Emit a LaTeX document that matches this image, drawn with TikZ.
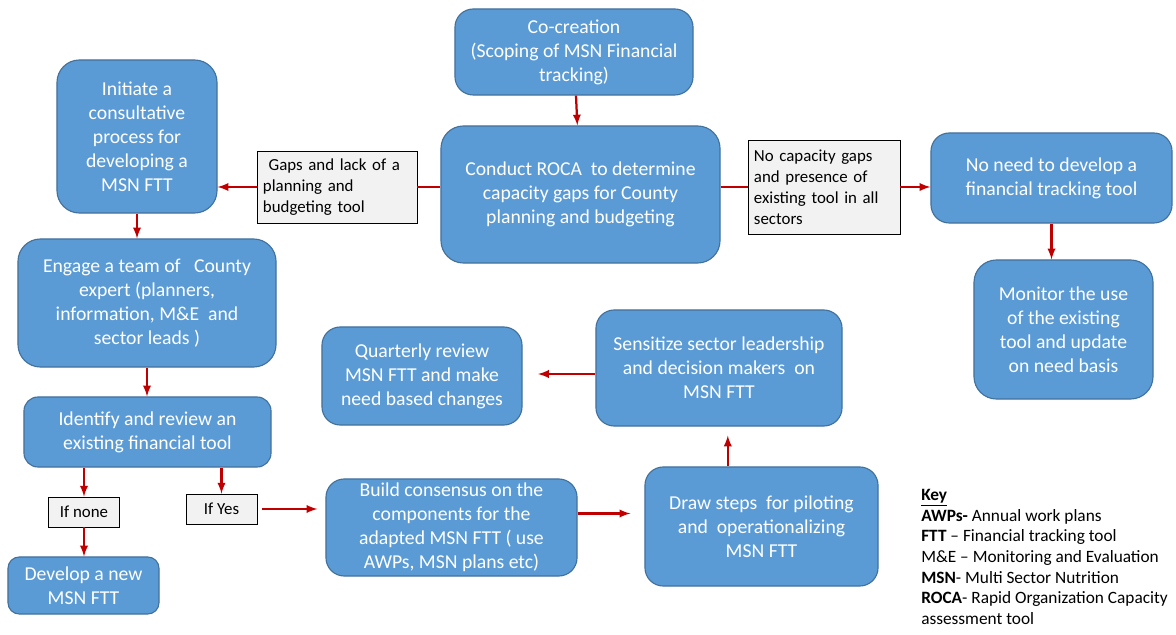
\documentclass[tikz,border=0pt]{standalone}
\usepackage{fontspec}
\setmainfont{Carlito}
\usepackage{xcolor}
\usepackage{tikz}
\definecolor{boxblue}{HTML}{5B9BD5}
\definecolor{boxedge}{HTML}{41719C}
\definecolor{arrowred}{HTML}{C00000}
\definecolor{labelgray}{HTML}{F2F2F2}

\begin{document}
\begin{tikzpicture}[x=0.025cm,y=-0.025cm,
    box/.style={draw=boxedge,fill=boxblue,line width=0.8pt,rounded corners=13pt,
      text=white,align=center,inner sep=2pt,font=\fontsize{14}{17}\selectfont},
    tag/.style={draw=black,fill=labelgray,line width=0.6pt,inner sep=3pt,
      font=\fontsize{12}{15}\selectfont},
    arrow/.style={-latex,arrowred,line width=1.6pt},
    link/.style={arrowred,line width=1.6pt}]
  \useasboundingbox (0,0) rectangle (1176,635);

  \node[box,minimum width=5.95cm,minimum height=2.15cm] (node0) at (574,52)
    {Co-creation\\(Scoping of MSN Financial\\tracking)};
  \node[box,minimum width=6.975cm,minimum height=3.425cm,rounded corners=16pt] (node1) at (580.5,194.5)
    {Conduct ROCA\ \ to determine\\capacity gaps for County\\planning and budgeting};
  \node[box,minimum width=4cm,minimum height=3.825cm,rounded corners=16pt] (node2) at (137,136.5)
    {Initiate a\\consultative\\process for\\developing a\\MSN FTT};
  \node[box,minimum width=6.025cm,minimum height=2.25cm] (node3) at (1051.5,178)
    {No need to develop a\\financial tracking tool};
  \node[box,minimum width=4.475cm,minimum height=3.475cm,rounded corners=16pt] (node4) at (1063.5,329.5)
    {Monitor the use\\of the existing\\tool and update\\on need basis};
  \node[box,minimum width=6.45cm,minimum height=3.2cm,rounded corners=16pt] (node5) at (147,303)
    {Engage a team of\ \ \ County\\expert (planners,\\information, M\&E\ \ and\\sector leads )};
  \node[box,minimum width=6.175cm,minimum height=1.75cm,rounded corners=10pt] (node6) at (147.5,432)
    {Identify and review an\\existing financial tool};
  \node[box,minimum width=3.775cm,minimum height=1.425cm,rounded corners=8pt] (node7) at (83.5,585.5)
    {Develop a new\\MSN FTT};
  \node[box,minimum width=6.275cm,minimum height=2.425cm] (node8) at (451.5,527.5)
    {Build consensus on the\\components for the\\adapted MSN FTT ( use\\AWPs, MSN plans etc)};
  \node[box,minimum width=5cm,minimum height=2.45cm] (node9) at (422,376)
    {Quarterly review\\MSN FTT and make\\need based changes};
  \node[box,minimum width=6.15cm,minimum height=2.9cm] (node10) at (719,368)
    {Sensitize sector leadership\\and decision makers\ \ on\\MSN FTT};
  \node[box,minimum width=5.825cm,minimum height=2.975cm] (node11) at (761.5,526.5)
    {Draw steps\ \ for piloting\\and\ \ operationalizing\\MSN FTT};

  \node[tag,minimum width=4cm,minimum height=1.8cm,text width=3.7cm,align=left] (tag0) at (337,187)
    {\ Gaps and lack of a\\planning and\\budgeting tool};
  \node[tag,minimum width=3.8cm,minimum height=2.35cm,text width=3.5cm,align=left] (tag1) at (824,187)
    {No capacity gaps\\and presence of\\existing tool in all\\sectors};
  \node[tag,minimum width=1.775cm,minimum height=0.75cm] (tag2) at (84,512) {If none};
  \node[tag,minimum width=1.775cm,minimum height=0.75cm] (tag3) at (221.5,509) {If Yes};

  \node[anchor=north west,align=left,inner sep=0pt,font=\fontsize{12.3}{14.7}\selectfont] (key) at (921,489)
    {\underline{\textbf{Key}}\\
     \textbf{AWPs-} Annual work plans\\
     \textbf{FTT} -- Financial tracking tool\\
     M\&E -- Monitoring and Evaluation\\
     \textbf{MSN}- Multi Sector Nutrition\\
     \textbf{ROCA}- Rapid Organization Capacity\\
     assessment tool};

  \coordinate (up) at ([xshift=0.22cm]node10.south);
  \coordinate (out8) at ([yshift=0.35cm]node8.east);
  \coordinate (out10) at ([yshift=-0.15cm]node10.west);

  \path (node0) edge [arrow] (node1);
  \draw [link] (tag0.east -| node1.west) -- (tag0.east);
  \path (tag0.west) edge [arrow] (tag0.west -| node2.east);
  \draw [link] (tag1.west -| node1.east) -- (tag1.west);
  \path (tag1.east) edge [arrow] (tag1.east -| node3.west);
  \path (node3.south) edge [arrow] (node3.south |- node4.north);
  \path (node2.south) edge [arrow] (node2.south |- node5.north);
  \path (node5.south) edge [arrow] (node5.south |- node6.north);
  \path (tag2.north |- node6.south) edge [arrow] (tag2.north);
  \path (tag3.north |- node6.south) edge [arrow] (tag3.north);
  \path (tag2.south) edge [arrow] (tag2.south |- node7.north);
  \path (tag3.east) edge [arrow,shorten <=3.5pt,shorten >=5.7pt] (tag3.east -| node8.west);
  \path (out8) edge [arrow,shorten >=10pt] (out8 -| node11.west);
  \path (up |- node11.north) edge [arrow,shorten >=6.4pt] (up);
  \path (out10) edge [arrow,shorten >=11pt] (out10 -| node9.east);

\end{tikzpicture}
\end{document}
